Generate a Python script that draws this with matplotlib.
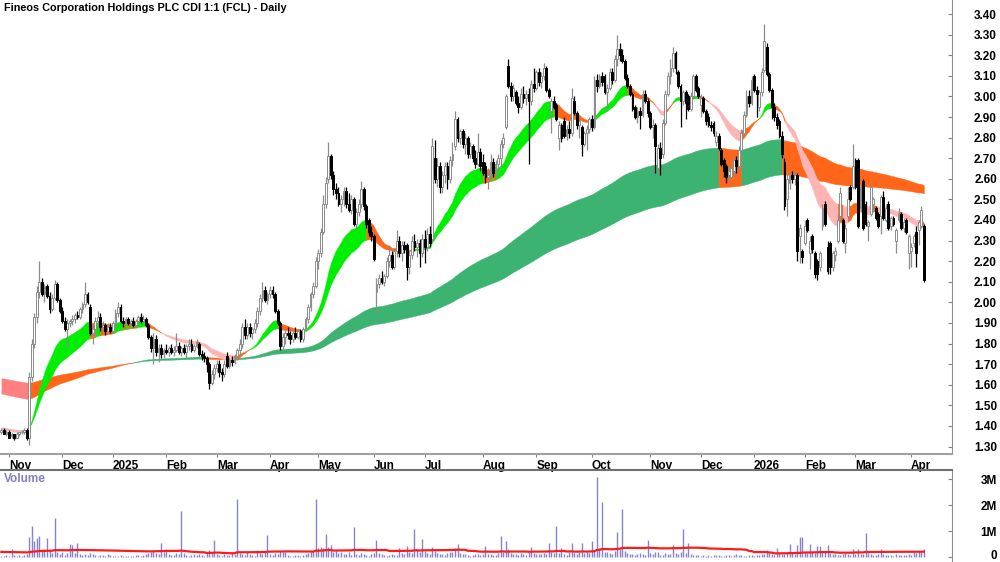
import matplotlib
matplotlib.use("Agg")
import matplotlib.pyplot as plt
import matplotlib.transforms as mtransforms
import numpy as np
import pandas as pd

TITLE = "Fineos Corporation Holdings PLC CDI 1:1 (FCL) - Daily"
FONT = ['Liberation Sans Narrow', 'Liberation Sans', 'DejaVu Sans']

# daily OHLC (29 Oct 2024 .. Apr 2026), 10 bars per row
opens = [
    1.37, 1.38, 1.36, 1.37, 1.35, 1.36, 1.34, 1.36, 1.37, 1.37,
    1.38, 1.34, 1.64, 1.80, 1.93, 2.05, 2.10, 2.04, 2.08, 2.03,
    1.97, 2.02, 2.09, 2.01, 1.96, 1.91, 1.87, 1.90, 1.91, 1.92,
    1.94, 1.93, 1.97, 1.99, 2.04, 1.98, 1.85, 1.87, 1.91, 1.93,
    1.88, 1.89, 1.86, 1.88, 1.86, 1.90, 1.95, 1.98, 1.91, 1.90,
    1.92, 1.90, 1.91, 1.89, 1.91, 1.93, 1.91, 1.92, 1.89, 1.83,
    1.78, 1.82, 1.76, 1.78, 1.75, 1.77, 1.76, 1.78, 1.76, 1.77,
    1.79, 1.76, 1.78, 1.76, 1.79, 1.80, 1.77, 1.79, 1.80, 1.75,
    1.74, 1.73, 1.70, 1.61, 1.65, 1.68, 1.70, 1.66, 1.65, 1.74,
    1.69, 1.72, 1.71, 1.74, 1.77, 1.80, 1.88, 1.84, 1.88, 1.85,
    1.87, 1.90, 1.96, 2.02, 2.06, 2.01, 2.04, 2.06, 2.04, 1.96,
    1.90, 1.79, 1.83, 1.85, 1.84, 1.82, 1.85, 1.83, 1.86, 1.82,
    1.87, 1.92, 1.98, 2.04, 2.08, 2.20, 2.24, 2.34, 2.48, 2.60,
    2.71, 2.62, 2.55, 2.53, 2.48, 2.50, 2.54, 2.48, 2.45, 2.50,
    2.38, 2.44, 2.48, 2.55, 2.47, 2.40, 2.34, 2.32, 2.05, 2.09,
    2.12, 2.10, 2.13, 2.20, 2.23, 2.17, 2.25, 2.30, 2.24, 2.28,
    2.28, 2.17, 2.23, 2.30, 2.27, 2.29, 2.24, 2.31, 2.27, 2.33,
    2.31, 2.70, 2.60, 2.66, 2.56, 2.62, 2.66, 2.60, 2.69, 2.76,
    2.89, 2.80, 2.83, 2.77, 2.80, 2.72, 2.76, 2.70, 2.67, 2.73,
    2.68, 2.66, 2.61, 2.62, 2.68, 2.63, 2.67, 2.70, 2.77, 2.85,
    3.15, 3.05, 3.00, 3.02, 2.97, 2.95, 3.01, 2.99, 3.01, 2.98,
    3.06, 3.04, 3.12, 3.07, 3.10, 3.14, 3.03, 2.93, 2.98, 2.96,
    2.80, 2.86, 2.88, 2.81, 2.84, 2.82, 2.98, 2.92, 2.86, 2.85,
    2.77, 2.82, 2.84, 2.89, 2.85, 3.08, 3.05, 3.10, 3.10, 3.02,
    3.04, 3.12, 3.08, 3.18, 3.23, 3.20, 3.17, 3.09, 3.05, 3.01,
    2.95, 2.90, 2.93, 2.91, 3.01, 2.98, 2.92, 2.85, 2.86, 2.65,
    2.75, 2.72, 2.87, 3.01, 3.10, 3.14, 3.21, 3.12, 3.05, 2.98,
    3.02, 3.00, 2.94, 3.00, 3.10, 3.04, 2.96, 2.99, 2.93, 2.90,
    2.86, 2.87, 2.78, 2.81, 2.74, 2.69, 2.66, 2.62, 2.61, 2.64,
    2.69, 2.66, 2.74, 2.82, 2.91, 3.00, 2.97, 3.10, 3.03, 2.95,
    3.02, 3.13, 3.24, 3.11, 3.03, 2.95, 2.90, 2.88, 2.81, 2.68,
    2.50, 2.58, 2.62, 2.60, 2.62, 2.32, 2.25, 2.29, 2.40, 2.24,
    2.32, 2.24, 2.20, 2.17, 2.37, 2.48, 2.27, 2.29, 2.17, 2.23,
    2.30, 2.42, 2.40, 2.29, 2.42, 2.56, 2.56, 2.69, 2.69, 2.46,
    2.59, 2.48, 2.37, 2.43, 2.48, 2.46, 2.43, 2.42, 2.51, 2.40,
    2.48, 2.37, 2.41, 2.30, 2.40, 2.43, 2.36, 2.40, 2.24, 2.25,
    2.29, 2.34, 2.35, 2.37, 2.37,
]
highs = [
    1.39, 1.39, 1.38, 1.38, 1.37, 1.36, 1.37, 1.37, 1.38, 1.39,
    1.39, 1.66, 1.82, 1.95, 2.08, 2.20, 2.12, 2.09, 2.09, 2.05,
    2.04, 2.11, 2.10, 2.02, 1.98, 1.93, 1.92, 1.92, 1.94, 1.95,
    1.96, 1.98, 2.00, 2.10, 2.05, 1.99, 1.89, 1.93, 1.96, 1.95,
    1.91, 1.90, 1.90, 1.90, 1.91, 1.97, 2.00, 1.99, 1.93, 1.93,
    1.93, 1.92, 1.93, 1.92, 1.94, 1.95, 1.94, 1.93, 1.90, 1.84,
    1.85, 1.84, 1.80, 1.80, 1.78, 1.80, 1.79, 1.80, 1.79, 1.85,
    1.81, 1.79, 1.80, 1.80, 1.82, 1.82, 1.80, 1.82, 1.81, 1.77,
    1.76, 1.74, 1.71, 1.67, 1.70, 1.72, 1.72, 1.68, 1.72, 1.76,
    1.73, 1.74, 1.75, 1.78, 1.82, 1.90, 1.92, 1.90, 1.90, 1.88,
    1.92, 1.98, 2.04, 2.10, 2.08, 2.05, 2.08, 2.08, 2.05, 1.97,
    1.91, 1.85, 1.87, 1.88, 1.86, 1.86, 1.88, 1.87, 1.87, 1.88,
    1.93, 1.99, 2.05, 2.10, 2.22, 2.26, 2.36, 2.52, 2.61, 2.78,
    2.72, 2.64, 2.58, 2.56, 2.52, 2.56, 2.56, 2.53, 2.52, 2.51,
    2.46, 2.50, 2.59, 2.56, 2.48, 2.41, 2.37, 2.33, 2.12, 2.14,
    2.15, 2.14, 2.22, 2.28, 2.25, 2.26, 2.35, 2.32, 2.30, 2.30,
    2.29, 2.25, 2.32, 2.33, 2.31, 2.31, 2.33, 2.35, 2.36, 2.37,
    2.80, 2.79, 2.70, 2.68, 2.64, 2.68, 2.68, 2.71, 2.78, 2.93,
    2.90, 2.84, 2.84, 2.82, 2.81, 2.78, 2.77, 2.74, 2.82, 2.75,
    2.72, 2.68, 2.65, 2.72, 2.70, 2.69, 2.72, 2.79, 2.82, 3.01,
    3.18, 3.07, 3.06, 3.03, 3.00, 3.04, 3.05, 3.03, 3.04, 3.08,
    3.14, 3.13, 3.14, 3.12, 3.16, 3.15, 3.04, 2.99, 3.00, 2.97,
    2.88, 2.87, 2.90, 2.86, 2.88, 3.04, 3.00, 2.93, 2.89, 2.86,
    2.83, 2.86, 2.90, 2.91, 3.10, 3.11, 3.11, 3.12, 3.11, 3.06,
    3.14, 3.14, 3.20, 3.30, 3.26, 3.23, 3.18, 3.11, 3.06, 3.02,
    2.96, 2.95, 2.95, 3.03, 3.03, 2.99, 2.93, 2.89, 2.87, 2.77,
    2.78, 2.89, 3.03, 3.12, 3.18, 3.24, 3.22, 3.13, 3.06, 3.03,
    3.03, 3.01, 3.02, 3.11, 3.11, 3.05, 3.01, 3.00, 2.94, 2.92,
    2.88, 2.88, 2.83, 2.82, 2.75, 2.70, 2.67, 2.66, 2.66, 2.71,
    2.71, 2.76, 2.84, 2.93, 3.03, 3.03, 3.10, 3.11, 3.05, 3.03,
    3.14, 3.35, 3.26, 3.12, 3.04, 2.97, 2.92, 2.89, 2.83, 2.70,
    2.63, 2.64, 2.64, 2.64, 2.63, 2.38, 2.26, 2.40, 2.41, 2.32,
    2.33, 2.25, 2.21, 2.25, 2.48, 2.49, 2.30, 2.30, 2.25, 2.27,
    2.43, 2.56, 2.41, 2.38, 2.56, 2.57, 2.77, 2.70, 2.70, 2.57,
    2.60, 2.49, 2.40, 2.57, 2.51, 2.47, 2.44, 2.52, 2.54, 2.48,
    2.49, 2.42, 2.42, 2.36, 2.46, 2.44, 2.41, 2.41, 2.33, 2.29,
    2.33, 2.37, 2.40, 2.47, 2.38,
]
lows = [
    1.36, 1.36, 1.35, 1.34, 1.34, 1.33, 1.34, 1.35, 1.36, 1.36,
    1.33, 1.31, 1.62, 1.78, 1.90, 2.02, 2.03, 2.00, 2.02, 1.95,
    1.96, 2.01, 2.00, 1.95, 1.90, 1.86, 1.78, 1.88, 1.89, 1.90,
    1.92, 1.92, 1.95, 1.98, 1.99, 1.84, 1.80, 1.84, 1.88, 1.86,
    1.85, 1.84, 1.85, 1.85, 1.85, 1.88, 1.93, 1.90, 1.88, 1.89,
    1.89, 1.89, 1.88, 1.88, 1.90, 1.90, 1.90, 1.88, 1.82, 1.76,
    1.70, 1.74, 1.71, 1.73, 1.73, 1.75, 1.74, 1.75, 1.74, 1.76,
    1.75, 1.74, 1.75, 1.73, 1.77, 1.76, 1.76, 1.78, 1.74, 1.72,
    1.71, 1.66, 1.58, 1.60, 1.63, 1.66, 1.64, 1.62, 1.64, 1.68,
    1.68, 1.69, 1.70, 1.72, 1.75, 1.78, 1.82, 1.82, 1.83, 1.82,
    1.85, 1.88, 1.94, 2.00, 2.00, 1.99, 2.02, 2.02, 1.95, 1.89,
    1.77, 1.77, 1.80, 1.82, 1.80, 1.81, 1.82, 1.82, 1.81, 1.81,
    1.86, 1.90, 1.96, 2.02, 2.07, 2.16, 2.22, 2.33, 2.46, 2.58,
    2.60, 2.52, 2.50, 2.47, 2.44, 2.47, 2.46, 2.44, 2.43, 2.37,
    2.36, 2.42, 2.46, 2.45, 2.36, 2.32, 2.30, 2.20, 1.95, 2.07,
    2.09, 2.08, 2.12, 2.17, 2.16, 2.16, 2.22, 2.22, 2.20, 2.24,
    2.11, 2.14, 2.21, 2.25, 2.22, 2.17, 2.22, 2.19, 2.25, 2.27,
    2.30, 2.58, 2.56, 2.53, 2.53, 2.58, 2.55, 2.58, 2.66, 2.74,
    2.78, 2.77, 2.75, 2.72, 2.70, 2.70, 2.68, 2.65, 2.66, 2.64,
    2.62, 2.58, 2.55, 2.60, 2.61, 2.61, 2.64, 2.66, 2.75, 2.84,
    3.04, 2.98, 2.98, 2.96, 2.92, 2.94, 2.97, 2.96, 2.67, 2.96,
    3.02, 3.03, 3.05, 3.04, 3.08, 3.02, 2.99, 2.82, 2.94, 2.88,
    2.74, 2.78, 2.80, 2.79, 2.80, 2.81, 2.91, 2.84, 2.80, 2.71,
    2.76, 2.74, 2.82, 2.83, 2.84, 3.02, 3.04, 3.05, 3.01, 2.93,
    3.03, 3.06, 3.07, 3.15, 3.17, 3.16, 3.08, 3.04, 3.00, 2.93,
    2.89, 2.87, 2.84, 2.90, 2.97, 2.90, 2.84, 2.80, 2.63, 2.62,
    2.62, 2.70, 2.86, 3.00, 3.06, 3.12, 3.11, 3.04, 2.85, 2.96,
    2.89, 2.93, 2.93, 2.99, 3.02, 2.99, 2.90, 2.92, 2.86, 2.85,
    2.83, 2.81, 2.76, 2.74, 2.66, 2.61, 2.58, 2.59, 2.60, 2.62,
    2.63, 2.64, 2.73, 2.81, 2.90, 2.95, 2.96, 3.02, 2.90, 2.93,
    3.00, 3.12, 3.10, 3.02, 2.89, 2.88, 2.84, 2.80, 2.70, 2.45,
    2.42, 2.55, 2.58, 2.57, 2.20, 2.19, 2.19, 2.28, 2.34, 2.16,
    2.24, 2.12, 2.11, 2.15, 2.35, 2.37, 2.14, 2.14, 2.15, 2.20,
    2.29, 2.40, 2.29, 2.24, 2.40, 2.49, 2.55, 2.55, 2.36, 2.44,
    2.35, 2.37, 2.30, 2.42, 2.44, 2.40, 2.36, 2.33, 2.40, 2.39,
    2.35, 2.35, 2.37, 2.24, 2.39, 2.35, 2.34, 2.33, 2.16, 2.17,
    2.27, 2.17, 2.28, 2.36, 2.10,
]
closes = [
    1.38, 1.36, 1.37, 1.34, 1.36, 1.34, 1.36, 1.37, 1.37, 1.38,
    1.34, 1.64, 1.80, 1.93, 2.05, 2.10, 2.04, 2.08, 2.03, 1.97,
    2.02, 2.09, 2.01, 1.96, 1.91, 1.87, 1.90, 1.91, 1.92, 1.94,
    1.93, 1.97, 1.99, 2.04, 2.00, 1.85, 1.87, 1.91, 1.93, 1.88,
    1.89, 1.86, 1.88, 1.86, 1.90, 1.95, 1.98, 1.91, 1.90, 1.92,
    1.90, 1.91, 1.89, 1.91, 1.93, 1.91, 1.92, 1.89, 1.83, 1.78,
    1.82, 1.76, 1.78, 1.75, 1.77, 1.76, 1.78, 1.76, 1.77, 1.79,
    1.76, 1.78, 1.76, 1.79, 1.80, 1.77, 1.79, 1.81, 1.75, 1.74,
    1.73, 1.70, 1.61, 1.65, 1.68, 1.70, 1.66, 1.65, 1.70, 1.69,
    1.72, 1.71, 1.74, 1.77, 1.80, 1.88, 1.84, 1.88, 1.85, 1.87,
    1.90, 1.96, 2.02, 2.06, 2.01, 2.04, 2.06, 2.04, 1.96, 1.90,
    1.79, 1.83, 1.85, 1.84, 1.82, 1.85, 1.83, 1.86, 1.82, 1.87,
    1.92, 1.98, 2.04, 2.08, 2.20, 2.24, 2.34, 2.48, 2.58, 2.71,
    2.62, 2.55, 2.53, 2.48, 2.50, 2.54, 2.48, 2.45, 2.50, 2.38,
    2.44, 2.48, 2.55, 2.47, 2.38, 2.34, 2.32, 2.21, 2.09, 2.12,
    2.10, 2.13, 2.20, 2.23, 2.17, 2.25, 2.30, 2.24, 2.28, 2.26,
    2.17, 2.23, 2.30, 2.27, 2.29, 2.24, 2.31, 2.27, 2.33, 2.29,
    2.76, 2.60, 2.66, 2.56, 2.62, 2.66, 2.60, 2.69, 2.72, 2.89,
    2.80, 2.83, 2.77, 2.80, 2.72, 2.76, 2.70, 2.67, 2.73, 2.66,
    2.63, 2.61, 2.62, 2.68, 2.63, 2.67, 2.70, 2.77, 2.80, 3.00,
    3.05, 3.00, 3.04, 2.97, 2.95, 3.01, 2.99, 3.01, 2.98, 3.06,
    3.04, 3.12, 3.07, 3.10, 3.14, 3.03, 3.00, 2.98, 2.95, 2.89,
    2.86, 2.80, 2.81, 2.84, 2.82, 2.99, 2.92, 2.86, 2.88, 2.77,
    2.82, 2.84, 2.89, 2.85, 3.08, 3.05, 3.10, 3.07, 3.02, 3.04,
    3.12, 3.08, 3.18, 3.23, 3.20, 3.17, 3.09, 3.05, 3.01, 2.94,
    2.90, 2.93, 2.91, 3.01, 2.98, 2.92, 2.85, 2.86, 2.76, 2.75,
    2.70, 2.87, 3.01, 3.10, 3.14, 3.21, 3.14, 3.05, 2.98, 3.02,
    2.97, 2.94, 3.00, 3.10, 3.03, 3.00, 2.99, 2.93, 2.88, 2.86,
    2.85, 2.82, 2.81, 2.75, 2.67, 2.64, 2.61, 2.64, 2.65, 2.69,
    2.66, 2.74, 2.82, 2.91, 3.00, 2.97, 3.08, 3.03, 3.01, 3.02,
    3.12, 3.27, 3.11, 3.03, 2.95, 2.90, 2.86, 2.81, 2.72, 2.47,
    2.60, 2.62, 2.60, 2.62, 2.25, 2.36, 2.22, 2.37, 2.35, 2.30,
    2.26, 2.14, 2.14, 2.24, 2.46, 2.38, 2.15, 2.17, 2.24, 2.25,
    2.40, 2.53, 2.30, 2.36, 2.50, 2.50, 2.66, 2.56, 2.37, 2.56,
    2.36, 2.38, 2.39, 2.56, 2.50, 2.41, 2.37, 2.51, 2.41, 2.46,
    2.36, 2.41, 2.38, 2.35, 2.43, 2.36, 2.39, 2.34, 2.32, 2.27,
    2.32, 2.24, 2.39, 2.45, 2.11,
]
# daily volume in thousands of shares, 20 bars per row
volume_k = [
    60, 40, 90, 50, 300, 70, 50, 80, 60, 90, 120, 770, 1180, 600, 720, 800, 320, 300, 720, 280,
    150, 1500, 200, 120, 180, 90, 140, 500, 470, 160, 560, 110, 90, 130, 80, 150, 100, 70, 60, 90,
    80, 60, 100, 70, 50, 40, 60, 80, 50, 40, 30, 60, 40, 70, 90, 60, 80, 120, 140, 200,
    230, 150, 110, 540, 180, 320, 120, 90, 80, 160, 100, 1760, 140, 90, 60, 80, 100, 70, 120, 90,
    60, 150, 280, 200, 670, 100, 80, 60, 120, 90, 70, 140, 100, 2230, 150, 110, 80, 200, 120, 90,
    60, 280, 140, 100, 180, 860, 120, 90, 150, 100, 220, 200, 180, 80, 60, 50, 70, 90, 60, 80,
    100, 150, 180, 250, 2230, 350, 400, 350, 900, 400, 450, 200, 250, 150, 180, 120, 100, 200, 90, 1150,
    120, 80, 150, 100, 90, 60, 120, 140, 640, 150, 100, 80, 60, 90, 130, 80, 70, 350, 150, 120,
    410, 200, 150, 1090, 300, 200, 700, 250, 150, 120, 380, 240, 150, 100, 120, 90, 150, 200, 180, 350,
    500, 150, 100, 120, 80, 60, 90, 110, 130, 80, 100, 440, 120, 100, 90, 80, 150, 820, 180, 600,
    300, 150, 120, 100, 80, 140, 100, 90, 200, 380, 160, 120, 110, 100, 150, 120, 540, 200, 150, 1180,
    140, 350, 120, 90, 200, 540, 150, 120, 180, 560, 150, 200, 160, 630, 250, 3080, 350, 2130, 200, 180,
    150, 120, 250, 960, 300, 1860, 250, 150, 120, 100, 90, 120, 150, 100, 80, 670, 150, 120, 200, 180,
    90, 80, 150, 120, 100, 470, 150, 120, 180, 1080, 150, 540, 120, 90, 80, 70, 60, 80, 50, 70,
    60, 80, 90, 70, 50, 60, 80, 70, 60, 90, 100, 80, 70, 60, 50, 80, 90, 60, 70, 80,
    100, 120, 280, 150, 100, 80, 350, 150, 120, 100, 200, 500, 150, 120, 470, 770, 770, 200, 150, 510,
    180, 150, 440, 440, 200, 180, 460, 150, 120, 100, 80, 90, 100, 150, 120, 90, 310, 120, 320, 110,
    100, 920, 150, 120, 90, 80, 100, 310, 120, 90, 80, 70, 60, 100, 90, 80, 70, 90, 100, 80,
    200, 150, 250, 180, 310,
]

# moving-average periods and their values at the left edge of the chart
SHORT_PERIODS = (21, 34)
SHORT_SEEDS = (1.385, 1.395)
LONG_PERIODS = (144, 233)
LONG_SEEDS = (1.56, 1.635)
VOL_MA_PERIOD = 60
VOL_MA_SEED_K = 200

ASX_HOLIDAYS = ['2024-12-25', '2024-12-26', '2025-01-01', '2025-01-27', '2025-04-18',
                '2025-04-21', '2025-04-25', '2025-06-09', '2025-12-25', '2025-12-26',
                '2026-01-01', '2026-01-26', '2026-04-03', '2026-04-06']


def ema(values, period, seed):
    a = 2.0 / (period + 1)
    out = []
    prev = seed
    for v in values:
        prev = prev + a * (v - prev)
        out.append(prev)
    return np.array(out)


def draw_ribbon(ax, x, fast, slow, seed, colours):
    # green: fast above slow and rising, pink: fast below slow and falling, else orange
    rising = np.diff(np.concatenate([[seed], fast])) > 0
    state = np.full(len(fast), 2)
    state[(fast > slow) & rising] = 0
    state[(fast < slow) & ~rising] = 1
    start = 0
    n = len(state)
    for i in range(1, n + 1):
        if i == n or state[i] != state[start]:
            end = min(i, n - 1)
            ax.fill_between(x[start:end + 1], fast[start:end + 1], slow[start:end + 1],
                            color=colours[state[start]], lw=0.3, zorder=1)
            start = i


n = len(closes)
o = np.array(opens)
h = np.array(highs)
l = np.array(lows)
c = np.array(closes)
vol = np.array(volume_k) * 1000.0
x = np.arange(n)
dates = pd.bdate_range('2024-10-29', periods=n, freq='C', holidays=ASX_HOLIDAYS)

fig = plt.figure(figsize=(10, 5.62), dpi=100)
ax = fig.add_axes([0, 1 - 454 / 562, 0.952, 454 / 562])
axv = fig.add_axes([0, 0, 0.952, 92 / 562])

# ribbons
s_fast = ema(c, SHORT_PERIODS[0], SHORT_SEEDS[0])
s_slow = ema(c, SHORT_PERIODS[1], SHORT_SEEDS[1])
l_fast = ema(c, LONG_PERIODS[0], LONG_SEEDS[0])
l_slow = ema(c, LONG_PERIODS[1], LONG_SEEDS[1])
draw_ribbon(ax, x, l_fast, l_slow, LONG_SEEDS[0], ['#3cb371', '#ff8080', '#ff661a'])
draw_ribbon(ax, x, s_fast, s_slow, SHORT_SEEDS[0], ['#00ee00', '#ffb4b4', '#ff661a'])

# candles
up = c >= o
ax.vlines(x[up], l[up], h[up], color='#8c8c8c', lw=0.9, zorder=2)
ax.vlines(x[~up], l[~up], h[~up], color='black', lw=0.9, zorder=2)
body_lo = np.minimum(o, c)
body_h = np.maximum(np.abs(c - o), 0.002)
ax.bar(x[up], body_h[up], bottom=body_lo[up], width=0.72, facecolor='white',
       edgecolor='#8c8c8c', linewidth=0.7, zorder=3)
ax.bar(x[~up], body_h[~up], bottom=body_lo[~up], width=0.72, facecolor='black',
       edgecolor='black', linewidth=0.7, zorder=3)

ax.set_xlim(-0.55, 375.1)
ax.set_ylim(1.264, 3.468)
axv.set_xlim(-0.55, 375.1)
axv.set_ylim(-0.19e6, 3.35e6)

# volume + moving average
axv.vlines(x, 0, vol, color='#8484cc', lw=1.0, zorder=2)
vol_ma = []
for i in range(n):
    lo = max(0, i - VOL_MA_PERIOD + 1)
    missing = VOL_MA_PERIOD - (i - lo + 1)
    vol_ma.append((vol[lo:i + 1].sum() + missing * VOL_MA_SEED_K * 1000.0) / VOL_MA_PERIOD)
axv.plot(x, vol_ma, color='#ff1a1a', lw=1.6, zorder=3)

# month ticks
month_pos = []
month_lab = []
prev = None
for i, d in enumerate(dates):
    key = (d.year, d.month)
    if key != prev and i > 0:
        month_pos.append(i)
        month_lab.append(str(d.year) if d.month == 1 else d.strftime('%b'))
    prev = key
ax.set_xticks(month_pos)
ax.set_xticklabels(month_lab, ha='left', fontsize=8.5, fontweight='bold', family=FONT)
offset = mtransforms.ScaledTranslation(2 / 100, 0, fig.dpi_scale_trans)
for lbl in ax.get_xticklabels():
    lbl.set_transform(lbl.get_transform() + offset)
ax.tick_params(axis='x', direction='out', length=2.5, pad=1.5, color='#808080')
axv.set_xticks([])

# right-hand value axes
pticks = np.round(np.arange(1.30, 3.401, 0.10), 2)
ax.yaxis.tick_right()
ax.set_yticks(pticks)
ax.set_yticklabels(['%.2f' % t for t in pticks], ha='right', fontsize=8.5,
                   fontweight='bold', family=FONT)
ax.tick_params(axis='y', direction='in', length=3, pad=32.4, color='#808080')

vticks = [0, 1e6, 2e6, 3e6]
axv.yaxis.tick_right()
axv.set_yticks(vticks)
axv.set_yticklabels(['0', '1M', '2M', '3M'], ha='right', fontsize=8.5,
                    fontweight='bold', family=FONT)
axv.tick_params(axis='y', direction='in', length=3, pad=32.4, color='#808080')
# lift the "0" label a little so it is not clipped by the figure edge
lift = mtransforms.ScaledTranslation(0, 3 / 100, fig.dpi_scale_trans)
zero_lbl = axv.get_yticklabels()[0]
zero_lbl.set_transform(zero_lbl.get_transform() + lift)

for a in (ax, axv):
    a.spines['left'].set_visible(False)
    a.spines['top'].set_visible(False)
    a.spines['right'].set_color('#909090')
    a.patch.set_alpha(0)
ax.spines['bottom'].set_color('#a0a0a0')
ax.spines['bottom'].set_linewidth(1.5)
axv.spines['bottom'].set_visible(False)
axv.spines['top'].set_visible(True)
axv.spines['top'].set_color('#707070')
axv.spines['top'].set_linewidth(1.5)

fig.text(0.004, 1 - 8 / 562, TITLE, ha='left', va='center', fontsize=7.8,
         fontweight='bold', family=FONT)
fig.text(0.004, 1 - 479 / 562, 'Volume', ha='left', va='center', fontsize=8.5,
         fontweight='bold', color='#8080c0', family=FONT)

fig.savefig('out.png', dpi=100)
